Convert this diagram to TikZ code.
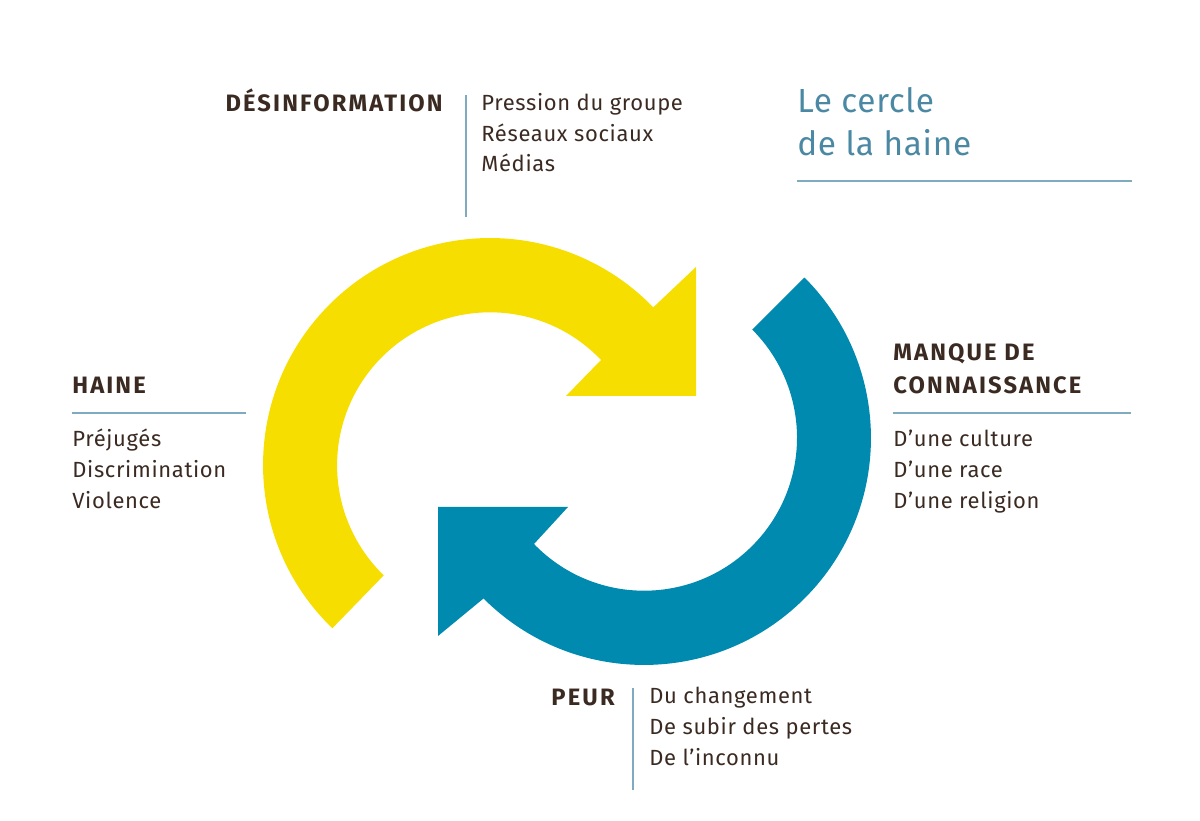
\documentclass[tikz,border=0pt]{standalone}
\usepackage{fontspec}
\setmainfont{Fira Sans}
\usepackage{tikz}
\usetikzlibrary{positioning}
\definecolor{hateYellow}{HTML}{F6DE00}
\definecolor{hateBlue}{HTML}{008AB0}
\definecolor{hateBrown}{HTML}{3A2A22}
\definecolor{titleBlue}{HTML}{4A88A3}
\definecolor{ruleBlue}{HTML}{7FAAC0}

\begin{document}
\begin{tikzpicture}[x=0.02cm, y=0.02cm]
				% Define styles for texts and rules
				\tikzset{
					heading/.style={
						text=hateBrown,
						inner sep=0pt,
						font=\fontsize{13.5}{16}\selectfont\bfseries\addfontfeatures{LetterSpace=9}
					},
					item/.style={
						text=hateBrown,
						inner sep=0pt,
						anchor=base west,
						font=\fontsize{12.5}{15}\selectfont\addfontfeatures{LetterSpace=3}
					},
					title/.style={
						text=titleBlue,
						inner sep=0pt,
						anchor=base west,
						font=\fontsize{19}{22}\selectfont\addfontfeatures{LetterSpace=2}
					},
					rule/.style={
						draw=ruleBlue,
						line width=0.8pt
					}
				}
				\useasboundingbox (0,0) rectangle (1200,821);
				
				% Yellow arrow
				\fill[hateYellow] (490,356) ++(226:4.54cm) arc[start angle=226, end angle=44, radius=4.54cm]
					-- (696,554) -- (696,425) -- (566,425) -- (601,461)
					arc[start angle=43.5, end angle=226, radius=3.06cm] -- cycle;
				
				% Blue arrow
				\fill[hateBlue] (644,383) ++(45:4.54cm) arc[start angle=45, end angle=-135, radius=4.54cm]
					-- (438,185) -- (438,314) -- (568,314) -- (534,277)
					arc[start angle=-136, end angle=45, radius=3.06cm] -- cycle;
				
				% Desinformation
				\node[heading, anchor=base east] (desinfo) at (443,709) {DÉSINFORMATION};
				\coordinate (desinfoTop) at (466,726);
				\coordinate (desinfoBot) at (466,604);
				\draw[rule] (desinfoTop) -- (desinfoBot);
				\node[item] (desinfo1) at (481,710) {Pression du groupe};
				\node[item] (desinfo2) at (481,679) {Réseaux sociaux};
				\node[item] (desinfo3) at (481,649) {Médias};
				
				% Title
				\node[title] (title1) at (797,708) {Le cercle};
				\node[title] (title2) at (797,665) {de la haine};
				\coordinate (titleL) at (797,640);
				\coordinate (titleR) at (1132,640);
				\draw[rule] (titleL) -- (titleR);
				
				% Haine
				\node[heading, anchor=base west] (haine) at (72,427) {HAINE};
				\coordinate (haineL) at (72,408);
				\coordinate (haineR) at (246,408);
				\draw[rule] (haineL) -- (haineR);
				\node[item] (haine1) at (72,374) {Préjugés};
				\node[item] (haine2) at (72,343) {Discrimination};
				\node[item] (haine3) at (72,312) {Violence};
				
				% Manque de connaissance
				\node[heading, anchor=base west] (manque1) at (893,460) {MANQUE DE};
				\node[heading, anchor=base west] (manque2) at (893,427) {CONNAISSANCE};
				\coordinate (manqueL) at (893,408);
				\coordinate (manqueR) at (1131,408);
				\draw[rule] (manqueL) -- (manqueR);
				\node[item] (manque3) at (893,374) {D’une culture};
				\node[item] (manque4) at (893,343) {D’une race};
				\node[item] (manque5) at (893,312) {D’une religion};
				
				% Peur
				\node[heading, anchor=base east] (peur) at (615,115) {PEUR};
				\coordinate (peurTop) at (633,133);
				\coordinate (peurBot) at (633,31);
				\draw[rule] (peurTop) -- (peurBot);
				\node[item] (peur1) at (649,117) {Du changement};
				\node[item] (peur2) at (649,86) {De subir des pertes};
				\node[item] (peur3) at (649,55) {De l’inconnu};
			\end{tikzpicture}
\end{document}
